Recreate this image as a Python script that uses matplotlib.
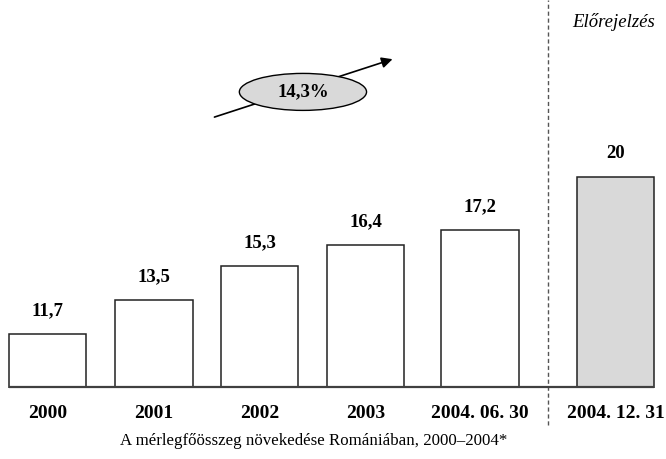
import matplotlib.pyplot as plt
from matplotlib.patches import Ellipse

# Data
labels = ['2000', '2001', '2002', '2003', '2004. 06. 30', '2004. 12. 31']
values = [11.7, 13.5, 15.3, 16.4, 17.2, 20]
value_text = ['11,7', '13,5', '15,3', '16,4', '17,2', '20']
growth_text = '14,3%'
forecast_text = 'Előrejelzés'
title_text = 'A mérlegfőösszeg növekedése Romániában, 2000–2004*'

# Layout (bar positions are uneven in the original)
positions = [0, 1.005, 2.0, 3.0, 4.08, 5.36]
colors = ['white'] * 5 + ['#d9d9d9']
bar_w = 0.73
y_base = 8.83
y_top = 29.39

plt.rcParams['font.family'] = ['Liberation Serif', 'DejaVu Serif']

fig = plt.figure(figsize=(6.66, 4.59), dpi=100)
ax = fig.add_axes([0, 0.1547, 1, 0.8453])

ax.bar(positions, values, width=bar_w, bottom=0, color=colors,
       edgecolor='#222222', linewidth=1.1, zorder=2)
ax.set_ylim(y_base, y_top)
ax.set_xlim(-0.448, 5.835)

# baseline under the bars
ax.hlines(y_base + 0.03, positions[0] - bar_w / 2, positions[-1] + bar_w / 2,
          color='#404040', linewidth=1.6, zorder=3, clip_on=False)

for x, v, t in zip(positions, values, value_text):
    ax.text(x, v + 0.8, t, ha='center', va='bottom', fontsize=13.5,
            fontweight='bold')

ax.set_xticks(positions, labels, fontsize=14, fontweight='bold')
ax.tick_params(axis='x', length=0, pad=12)
ax.set_yticks([])
for s in ax.spines.values():
    s.set_visible(False)

# Forecast separator
ax.plot([4.72, 4.72], [6.87, y_top], color='#555555', linestyle=(0, (3, 2)),
        linewidth=1.0, clip_on=False)
ax.text(5.34, 28.2, forecast_text, ha='center', va='center', fontsize=13.5,
        fontstyle='italic')

# Growth arrow and ellipse
ax.annotate('', xy=(3.28, 26.3), xytext=(1.55, 23.14),
            arrowprops=dict(arrowstyle='-|>', color='black', lw=1.2,
                            mutation_scale=16), zorder=3)
ax.add_patch(Ellipse((2.41, 24.52), 1.2, 1.96, facecolor='#d9d9d9',
                     edgecolor='black', linewidth=1.0, zorder=4))
ax.text(2.41, 24.52, growth_text, ha='center', va='center', fontsize=13.5,
        fontweight='bold', zorder=5)

fig.text(314 / 666, 1 - 441 / 459, title_text, ha='center', va='center',
         fontsize=12.2)

fig.savefig('out.png', dpi=100)
